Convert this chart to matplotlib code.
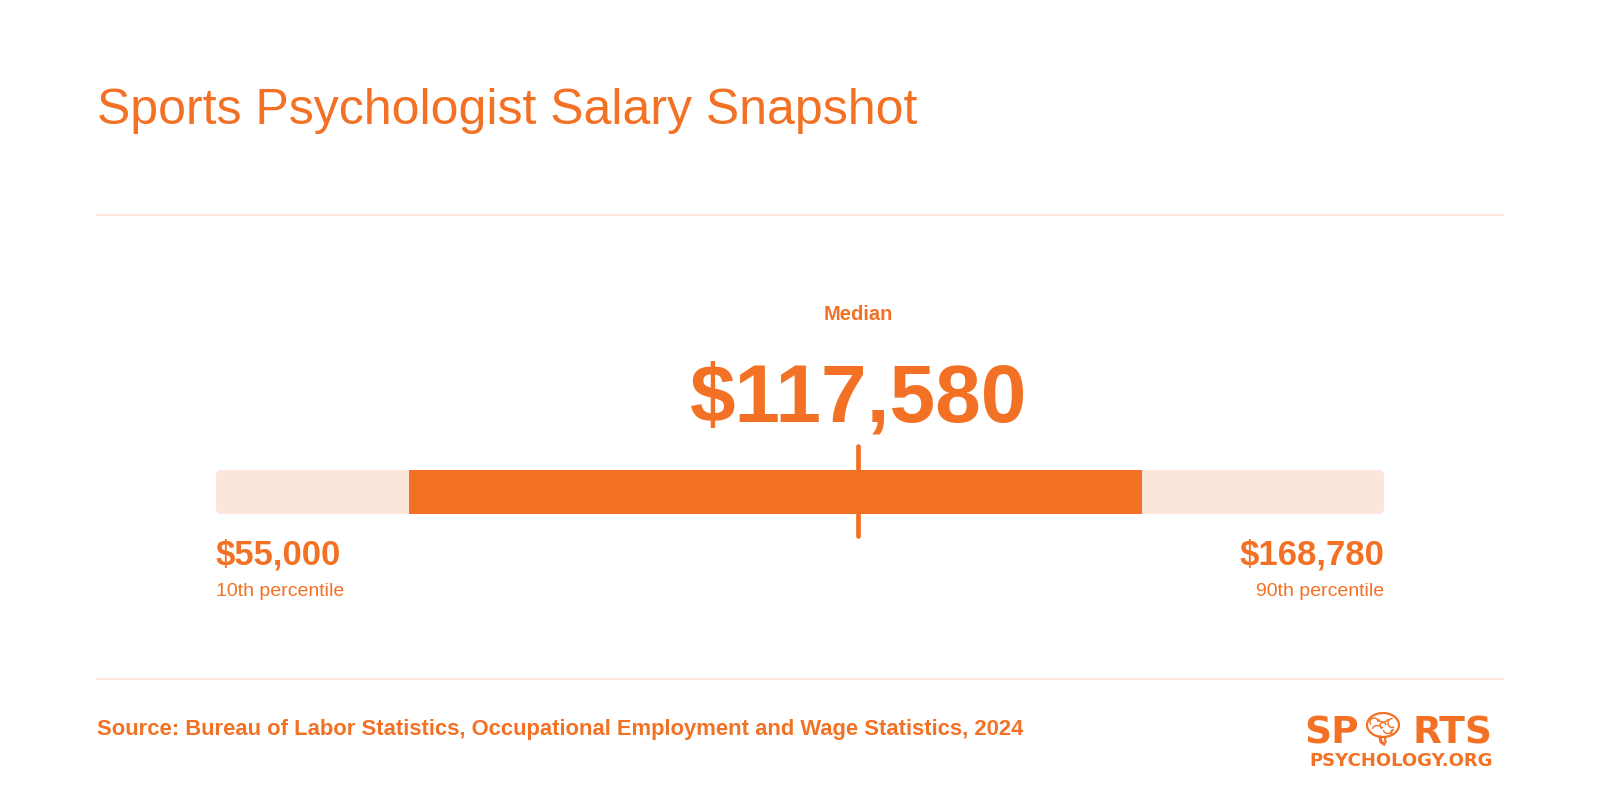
import matplotlib.pyplot as plt
from matplotlib.patches import FancyBboxPatch, Ellipse, Arc

# salary percentiles (BLS OEWS 2024)
p10 = 55000
p25 = 73800
median = 117580
p75 = 145200
p90 = 168780

title = "Sports Psychologist Salary Snapshot"
source = "Source: Bureau of Labor Statistics, Occupational Employment and Wage Statistics, 2024"
low_label = "10th percentile"
high_label = "90th percentile"

ORANGE = "#F37124"
LIGHT = "#FCE5D9"
W, H = 1600, 800

plt.rcParams['font.family'] = ['Liberation Sans', 'DejaVu Sans']

fig = plt.figure(figsize=(16, 8), dpi=100)
fig.patch.set_facecolor("white")


def fx(px):
    return px / W


def fy(py):
    return 1 - py / H


# title + rules
fig.text(fx(97), fy(124), title, color=ORANGE, fontsize=36, va="baseline", ha="left")
fig.add_artist(plt.Line2D([fx(97), fx(1503)], [fy(215), fy(215)], color=LIGHT, lw=1.6))
fig.add_artist(plt.Line2D([fx(97), fx(1503)], [fy(679), fy(679)], color=LIGHT, lw=1.6))

# bar axes: x in dollars, spanning p10..p90
ax_l, ax_r = 216, 1384
ax_t, ax_b = 427, 557
ax = fig.add_axes([fx(ax_l), fy(ax_b), fx(ax_r - ax_l), (ax_b - ax_t) / H])
ax.set_xlim(p10, p90)
ax.set_ylim(-1, 1)
ax.axis("off")

bar_h = 44 / 65  # 44 px tall
px_x = (p90 - p10) / (ax_r - ax_l)
px_y = 2 / (ax_b - ax_t)
rad = 6 * px_x
bg = FancyBboxPatch((p10, -bar_h / 2), p90 - p10, bar_h,
                    boxstyle=f"round,pad=0,rounding_size={rad}",
                    mutation_aspect=px_y / px_x, fc=LIGHT, ec="none")
ax.add_patch(bg)
ax.barh(0, p75 - p25, left=p25, height=bar_h, color=ORANGE, edgecolor="none")
ax.plot([median, median], [46 * px_y, -44 * px_y], color=ORANGE, lw=3.4,
        solid_capstyle="round")

# labels tied to data x
blend = plt.matplotlib.transforms.blended_transform_factory(ax.transData, fig.transFigure)
ax.text(median, fy(314), "Median", transform=blend, ha="center", va="center",
        color=ORANGE, fontsize=14.5, fontweight="bold")
ax.text(median, fy(422), f"${median:,}", transform=blend, ha="center", va="baseline",
        color=ORANGE, fontsize=59, fontweight="bold")
ax.text(p10, fy(565), f"${p10:,}", transform=blend, ha="left", va="baseline",
        color=ORANGE, fontsize=25, fontweight="bold")
ax.text(p10, fy(596), low_label, transform=blend, ha="left", va="baseline",
        color=ORANGE, fontsize=14)
ax.text(p90, fy(565), f"${p90:,}", transform=blend, ha="right", va="baseline",
        color=ORANGE, fontsize=25, fontweight="bold")
ax.text(p90, fy(596), high_label, transform=blend, ha="right", va="baseline",
        color=ORANGE, fontsize=14)

# source
fig.text(fx(97), fy(735), source, color=ORANGE, fontsize=15.8, fontweight="bold",
         va="baseline", ha="left")

# logo
logo_font = ['DejaVu Sans']
fig.text(fx(1304), fy(743), "SP", color=ORANGE, fontsize=27, fontweight="bold",
         family=logo_font, va="baseline", ha="left")
fig.text(fx(1493), fy(743), "RTS", color=ORANGE, fontsize=27, fontweight="bold",
         family=logo_font, va="baseline", ha="right")
fig.text(fx(1493), fy(766), "PSYCHOLOGY.ORG", color=ORANGE, fontsize=13,
         fontweight="bold", family=logo_font, va="baseline", ha="right")
# little brain in place of the O
lax = fig.add_axes([fx(1364), fy(754), fx(38), 42 / H])
lax.set_xlim(0, 38)
lax.set_ylim(0, 42)
lax.axis("off")
lax.add_patch(Ellipse((19, 29), 32, 24, fc="none", ec=ORANGE, lw=1.6))
for cx, cy, w, h, t1, t2 in [(10, 32, 8, 8, 0, 220), (19, 35, 9, 6, 180, 360),
                             (28, 31, 8, 9, 80, 300), (13, 25, 9, 7, 0, 180),
                             (24, 24, 9, 7, 180, 360), (19, 29, 6, 5, 0, 270),
                             (30, 22, 6, 5, 90, 270)]:
    lax.add_patch(Arc((cx, cy), w, h, theta1=t1, theta2=t2, color=ORANGE, lw=1.0))
lax.plot([16, 17, 20], [17, 12, 10], color=ORANGE, lw=2.2)
lax.plot([21, 21.5], [17, 12], color=ORANGE, lw=1.6)

fig.savefig("out.png", dpi=100, facecolor="white")
